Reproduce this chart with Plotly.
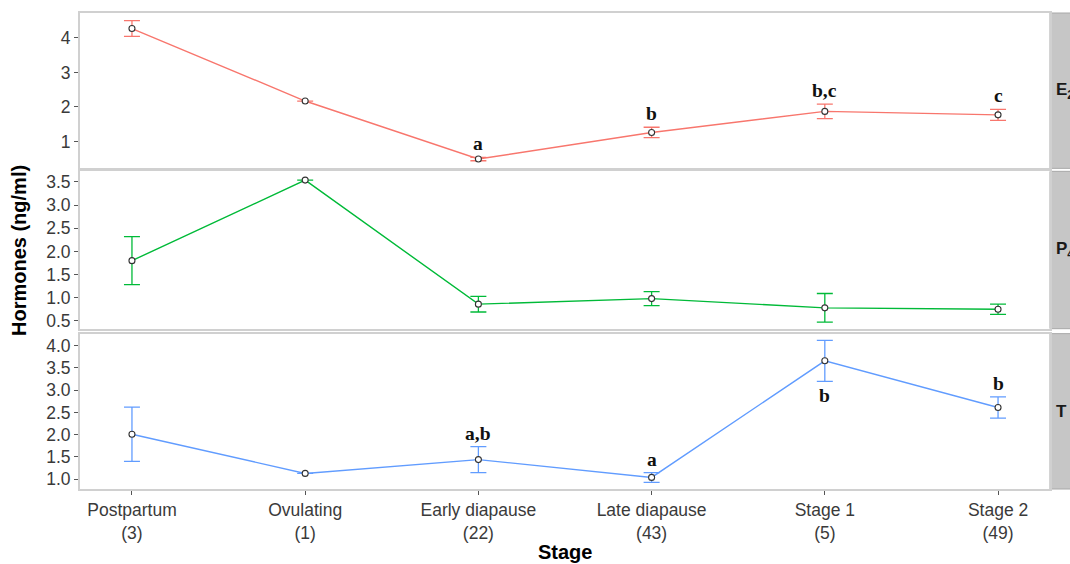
import plotly.graph_objects as go
from plotly.subplots import make_subplots

# Reproductive stages and sample sizes
stages = ["Postpartum", "Ovulating", "Early diapause", "Late diapause", "Stage 1", "Stage 2"]
sample_n = [3, 1, 22, 43, 5, 49]

# Hormone means (ng/ml) and standard errors per stage
e2_mean = [4.27, 2.17, 0.49, 1.26, 1.87, 1.77]
e2_se = [0.23, None, 0.05, 0.15, 0.21, 0.16]
p4_mean = [1.80, 3.54, 0.86, 0.98, 0.78, 0.75]
p4_se = [0.52, None, 0.17, 0.15, 0.31, 0.11]
t_mean = [2.01, 1.13, 1.44, 1.04, 3.66, 2.61]
t_se = [0.61, None, 0.29, 0.11, 0.46, 0.24]

# Significance letters (side: 1 = above the bar, -1 = below)
e2_letters = ["", "", "a", "b", "b,c", "c"]
e2_side = [1, 1, 1, 1, 1, 1]
p4_letters = ["", "", "", "", "", ""]
p4_side = [1, 1, 1, 1, 1, 1]
t_letters = ["", "", "a,b", "a", "b", "b"]
t_side = [1, 1, 1, 1, -1, 1]

panels = [
    ("E<sub>2</sub>", e2_mean, e2_se, e2_letters, e2_side, "#F8766D", [0.22, 4.72], [1, 2, 3, 4], ["1", "2", "3", "4"]),
    ("P<sub>4</sub>", p4_mean, p4_se, p4_letters, p4_side, "#00BA38", [0.33, 3.73],
     [0.5, 1.0, 1.5, 2.0, 2.5, 3.0, 3.5], ["0.5", "1.0", "1.5", "2.0", "2.5", "3.0", "3.5"]),
    ("T", t_mean, t_se, t_letters, t_side, "#619CFF", [0.78, 4.27],
     [1.0, 1.5, 2.0, 2.5, 3.0, 3.5, 4.0], ["1.0", "1.5", "2.0", "2.5", "3.0", "3.5", "4.0"]),
]

W, H = 1070, 564
ML, MR, MT, MB = 80, 20, 11, 75
plot_h = H - MT - MB
# panel extents in pixels from the top of the page
panel_px = [(11, 167), (170, 328), (333, 489)]
domains = [[(H - MB - b) / plot_h, (H - MB - t) / plot_h] for t, b in panel_px]

fig = make_subplots(rows=3, cols=1, shared_xaxes=True)

xs = list(range(len(stages)))
tick_text = [f"{s}<br>({n})" for s, n in zip(stages, sample_n)]
axis_font = dict(family="Liberation Sans, Arial, sans-serif", size=17.5, color="#3a3a3a")
letter_font = dict(family="Liberation Serif, Times New Roman, serif", size=19.5, color="#111111")
border = "#d0d0d0"

annotations = []
shapes = []
for i, (label, mean, se, letters, side, color, yr, yt, ytt) in enumerate(panels):
    row = i + 1
    fig.add_trace(go.Scatter(
        x=xs, y=mean, mode="lines+markers",
        line=dict(color=color, width=1.4),
        marker=dict(symbol="circle", size=6, color="white", line=dict(color="#333333", width=1.1)),
        error_y=dict(type="data", array=se, symmetric=True, color=color, thickness=1.3, width=8),
        showlegend=False, hoverinfo="skip",
    ), row=row, col=1)

    yname = "yaxis" if row == 1 else f"yaxis{row}"
    xname = "xaxis" if row == 1 else f"xaxis{row}"
    fig.layout[yname].update(
        domain=domains[i], range=yr, tickvals=yt, ticktext=ytt,
        ticks="outside", ticklen=4, tickcolor="#555555", tickwidth=1,
        showgrid=False, zeroline=False, showline=True, mirror=True,
        linecolor=border, linewidth=2, tickfont=axis_font,
    )
    if row == 3:
        fig.layout[xname].update(
            range=[-0.3, 5.3], showgrid=False, zeroline=False, showline=True, mirror=True,
            linecolor=border, linewidth=2, tickvals=xs, ticktext=tick_text,
            ticks="outside", ticklen=4, tickcolor="#555555", tickfont=axis_font,
        )
    else:
        fig.layout[xname].update(
            range=[-0.3, 5.3], showgrid=False, zeroline=False, showline=True, mirror=True,
            linecolor=border, linewidth=2, ticks="", showticklabels=False,
        )

    # significance letters
    yref = "y" if row == 1 else f"y{row}"
    xref = "x" if row == 1 else f"x{row}"
    for j, txt in enumerate(letters):
        if not txt:
            continue
        err = se[j] or 0
        if side[j] > 0:
            annotations.append(dict(x=j, y=mean[j] + err, xref=xref, yref=yref, text=f"<b>{txt}</b>",
                                    showarrow=False, yanchor="bottom", yshift=1, font=letter_font))
        else:
            annotations.append(dict(x=j, y=mean[j] - err, xref=xref, yref=yref, text=f"<b>{txt}</b>",
                                    showarrow=False, yanchor="top", yshift=-2, font=letter_font))

    # facet strip on the right
    d0, d1 = domains[i]
    shapes.append(dict(type="rect", xref="paper", yref="paper", x0=1.0, x1=1.0 + 30 / (W - ML - MR),
                       y0=d0, y1=d1, fillcolor="#c6c6c6", line=dict(color="#a8a8a8", width=1), layer="below"))
    annotations.append(dict(x=1.0 + 4 / (W - ML - MR), y=(d0 + d1) / 2, xref="paper", yref="paper",
                            text=f"<b>{label}</b>", showarrow=False, xanchor="left", yanchor="middle",
                            font=dict(family="Liberation Sans, Arial, sans-serif", size=17, color="#1a1a1a")))

annotations.append(dict(x=0, y=0.5, xref="paper", yref="paper", xanchor="center", yanchor="middle",
                        xshift=-61, text="<b>Hormones (ng/ml)</b>", textangle=-90, showarrow=False,
                        font=dict(family="Liberation Sans, Arial, sans-serif", size=20, color="#000000")))
annotations.append(dict(x=0.5, y=0, xref="paper", yref="paper", xanchor="center", yanchor="top",
                        yshift=-50, text="<b>Stage</b>", showarrow=False,
                        font=dict(family="Liberation Sans, Arial, sans-serif", size=20, color="#000000")))

fig.update_layout(
    width=W, height=H,
    margin=dict(l=ML, r=MR, t=MT, b=MB),
    paper_bgcolor="white", plot_bgcolor="white",
    annotations=annotations, shapes=shapes,
)

fig.write_html("out.html")
